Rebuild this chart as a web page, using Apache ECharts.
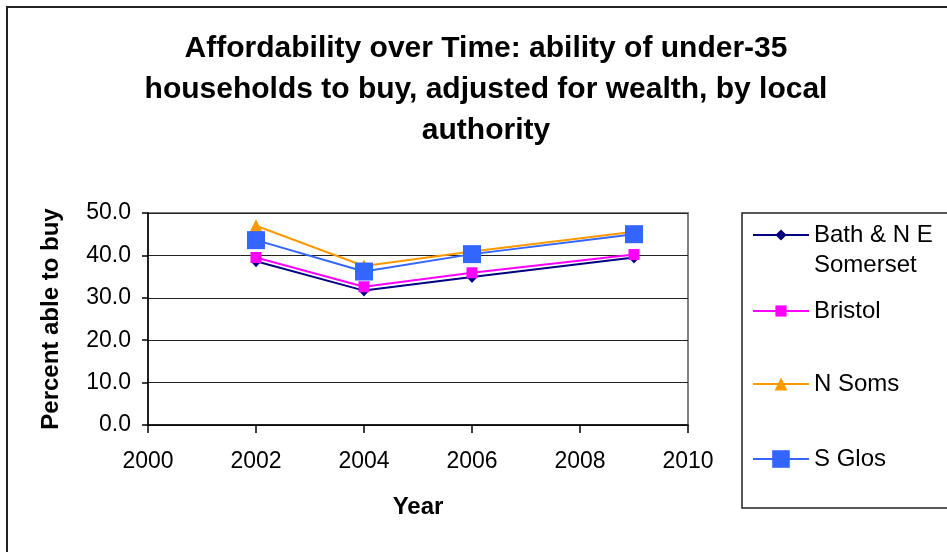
<!DOCTYPE html>
<html>
<head>
<meta charset="utf-8">
<script src="https://cdn.jsdelivr.net/npm/echarts@6/dist/echarts.min.js"></script>
<style>
html,body{margin:0;padding:0;background:#fff;}
#chart{width:947px;height:552px;}
</style>
</head>
<body>
<div id="chart"></div>
<script>
const titleText = 'Affordability over Time: ability of under-35\nhouseholds to buy, adjusted for wealth, by local\nauthority';
const xAxisName = 'Year';
const yAxisName = 'Percent able to buy';
const years = [2002, 2004, 2006, 2009];
const seriesNames = ['Bath & N E Somerset', 'Bristol', 'N Soms', 'S Glos'];
const bathValues = [38.6, 31.7, 34.9, 39.5];
const bristolValues = [39.5, 32.6, 35.9, 40.2];
const nSomsValues = [47.0, 37.5, 40.9, 45.6];
const sGlosValues = [43.6, 36.2, 40.3, 45.0];
const xTicks = {min: 2000, max: 2010, interval: 2};
const yTicks = {min: 0, max: 50, interval: 10};

const FONT = 'Liberation Sans, Arial, sans-serif';
const colors = ['#000080', '#FF00FF', '#FF9900', '#3366FF'];
const symbols = ['diamond', 'rect', 'triangle', 'rect'];
const symbolSizes = [[11, 12], 11, 13, 18];
const valueSets = [bathValues, bristolValues, nSomsValues, sGlosValues];

const chart = echarts.init(document.getElementById('chart'));

const series = seriesNames.map((name, i) => ({
  name: name,
  type: 'line',
  data: years.map((y, j) => [y, valueSets[i][j]]),
  symbol: symbols[i],
  symbolSize: symbolSizes[i],
  showAllSymbol: true,
  lineStyle: {color: colors[i], width: 2},
  itemStyle: {color: colors[i], borderWidth: 0},
  emphasis: {disabled: true},
  animation: false,
  z: 3 + i
}));

const legendTops = [190, 296, 369, 444];
const legendItemHeights = [14, 14, 16, 22];
const legends = seriesNames.map((name, i) => ({
  data: [name],
  left: 752,
  top: legendTops[i],
  padding: 0,
  itemWidth: 56,
  itemHeight: legendItemHeights[i],
  selectedMode: false,
  formatter: i === 0 ? ' \nBath & N E\nSomerset' : '{name}',
  textStyle: {fontFamily: FONT, fontSize: 24, color: '#000', lineHeight: 30}
}));

chart.setOption({
  backgroundColor: '#ffffff',
  animation: false,
  title: {
    text: titleText,
    left: 481,
    top: 23,
    textAlign: 'center',
    textStyle: {fontFamily: FONT, fontWeight: 'bold', fontSize: 30, lineHeight: 41, color: '#000'}
  },
  legend: legends,
  grid: {
    left: 148, top: 213, width: 540, height: 212,
    show: true, borderColor: '#808080', borderWidth: 2, backgroundColor: 'transparent'
  },
  xAxis: {
    type: 'value',
    min: xTicks.min, max: xTicks.max, interval: xTicks.interval,
    name: xAxisName,
    nameLocation: 'middle',
    nameGap: 70,
    nameTextStyle: {fontFamily: FONT, fontWeight: 'bold', fontSize: 24, color: '#000'},
    axisLine: {show: true, lineStyle: {color: '#000', width: 1.5}},
    axisTick: {show: true, inside: false, length: 8, lineStyle: {color: '#000', width: 1.5}},
    axisLabel: {fontFamily: FONT, fontSize: 23, color: '#000', margin: 25, formatter: v => String(v)},
    splitLine: {show: false}
  },
  yAxis: {
    type: 'value',
    min: yTicks.min, max: yTicks.max, interval: yTicks.interval,
    name: yAxisName,
    nameLocation: 'middle',
    nameRotate: 90,
    nameGap: 85,
    nameTextStyle: {fontFamily: FONT, fontWeight: 'bold', fontSize: 24, color: '#000'},
    axisLine: {show: true, lineStyle: {color: '#000', width: 1.5}},
    axisTick: {show: true, inside: false, length: 6, lineStyle: {color: '#000', width: 1.5}},
    axisLabel: {fontFamily: FONT, fontSize: 23, color: '#000', margin: 17, formatter: v => v.toFixed(1)},
    splitLine: {show: true, lineStyle: {color: '#222', width: 1}}
  },
  graphic: [
    {type: 'rect', shape: {x: 7, y: 7, width: 1000, height: 600}, style: {fill: 'none', stroke: '#222', lineWidth: 2}, silent: true},
    {type: 'rect', shape: {x: 742, y: 213, width: 300, height: 295}, style: {fill: 'none', stroke: '#222', lineWidth: 1.5}, silent: true}
  ],
  series: series
});
</script>
</body>
</html>
